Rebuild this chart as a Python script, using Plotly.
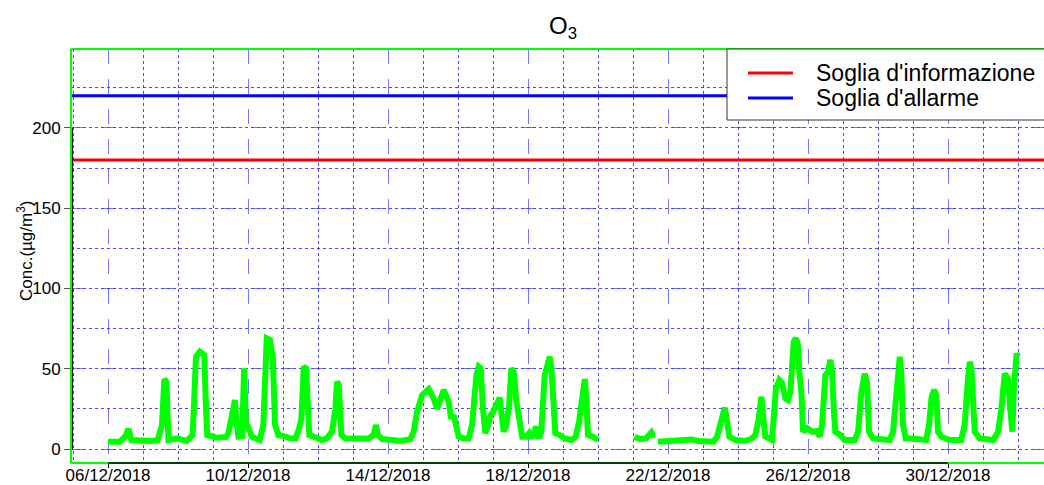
import pandas as pd
import plotly.graph_objects as go

# ---- data (hours after 06/12/2018 00:00, O3 concentration in µg/m³) ----
start_date = "2018-12-06"
hours = [0, 8, 12, 14, 16, 24, 30, 34, 37, 38.6, 40, 41.4, 47, 54, 58, 59.5, 60.3, 63, 66, 67, 68, 75, 81,
         82.5, 85, 87, 88, 89.4, 92, 93.3, 94.6, 96, 98.5, 102, 104, 106.5, 108.8, 111, 113, 114.5, 116.8, 122,
         125, 128.5, 130.7, 132.6, 134.2, 135.8, 137, 138, 141, 143.3, 146.7, 150, 153.6, 155.9, 157, 158.2, 160,
         162.7, 172, 178.7, 182, 183.8, 185, 188, 194.7, 200.5, 207.3, 209.6, 211.9, 215.3, 219.9, 223.3, 225.6,
         230.2, 233.6, 235.2, 237, 238.6, 240.5, 244, 247.3, 249.6, 250.5, 252.6, 254.2, 255.5, 257.1, 258.7,
         260.6, 262.2, 264, 266.3, 268.6, 269.7, 271.3, 273.1, 275, 276.6, 278.2, 280, 282.3, 284, 286.9, 288.7,
         290.3, 292.6, 293.7, 295.3, 297.1, 299.4, 301, 302.9, 304, 305.6, 306.7, 309.7, 313.1, 317.7, 320.7, 323,
         325.3, 326.9, 328, 329.1, 332.6, 336,
         348,
         361, 364.6, 369, 372.6, 373.7, 375,
         376,
         377, 384.5, 393.6, 400, 405, 411.9, 415.3, 417.6, 419.9, 422.9, 424.5, 426, 430.2, 437, 441.6, 443.9,
         446.2, 448, 448.9, 450.7, 455.3, 456.5, 458, 460.3, 462.2, 464.5, 466.3, 467.9, 469, 470.2, 471.8, 473.1,
         474, 475.4, 476.6, 479.3, 482.7, 486.2, 488, 489.6, 491.9, 493.7, 495.3, 496.5, 497.6, 498.7, 502.2, 505,
         512, 514.3, 516.6, 518.9, 520.5, 521.8, 524.6, 536, 538.3, 541, 542.9, 544, 545.1, 547, 551, 561, 563,
         564.6, 566.2, 568, 569.1, 571.4, 577, 585, 587.4, 589.7, 590.9, 592, 593.1, 594.3, 597.7, 607, 610.3,
         612.6, 614.9, 617.1, 618.7, 620.1, 621, 623, 624]
o3 = [4.6, 4.5, 8, 12.5, 5.6, 5, 5, 5.5, 15, 43.6, 42, 5.6, 6.6, 5, 8.7, 40, 57.5, 60.6, 58.6, 30, 8.7, 7, 7.5,
      9.8, 20, 30.5, 17, 7.7, 8, 50.3, 15, 14, 7.7, 6.6, 5.6, 15, 69, 68, 56.5, 15, 8.7, 7.7,
      6.6, 6.6, 11.8, 19, 51.3, 50.3, 25, 8.7, 7.7, 6.6, 5.6, 6.6, 10.8, 25, 42, 40, 8.7,
      6.6, 6.2, 6.6, 8.7, 15, 8.7, 6.2, 5.6, 5, 6.2, 10.8, 23, 33.6, 37.4, 31.6, 25,
      36.8, 29.5, 19, 21, 15, 7.7, 6.6, 6.6, 15, 25, 46, 51.3, 50.3, 25, 9.8,
      15, 21, 23, 27.4, 32, 23, 10.8, 15, 27.4, 50.3, 48, 29.5, 15, 7.7, 7.7, 9.8,
      6.6, 10.8, 14, 6.6, 10.8, 46, 50.3, 57.5, 50.3, 29.5, 9.8, 8.7, 6.6, 5.6, 7.7, 17,
      35.7, 43.6, 29.5, 8.7, 7.7, 5.6,
      None,
      7.7, 6.2, 6.6, 10.4, 8.7, 9,
      None,
      4.6, 5, 5, 6, 5, 4.6, 4.6, 7.7, 15, 25.8, 17, 7.7, 5.6, 5, 6.6, 8.7,
      19, 32.6, 23, 7.7, 5.6, 25, 37.8, 43, 41, 31.6, 30.5, 35.7, 52.3, 66.9, 69, 64.8,
      48, 35.7, 10.8, 13, 10.8, 11.2, 7.7, 15, 46, 48, 55.5, 48, 25, 10.8, 8.7, 5.6,
      5.6, 10.8, 35.7, 47, 41, 10.8, 6.6, 5.6, 10.8, 35.7, 57.5, 46, 15, 6.6, 6.6, 5.6, 15,
      31.6, 36.8, 33.6, 10.8, 7.7, 5.6, 5.6, 15, 44, 54.4, 50.3, 25, 10.8, 6.6, 5.6, 10.8,
      25, 47, 44, 25, 10.8, 35.7, 59.6, 57.5]

threshold_names = ["Soglia d'informazione", "Soglia d'allarme"]
threshold_values = [180, 220]
threshold_colors = ["#ff0000", "#0000ff"]

x_tick_first = "2018-12-06"
x_tick_last = "2018-12-30"
y_ticks = [0, 50, 100, 150, 200]
y_title = "Conc.(µg/m<sup>3</sup>)"
chart_title = "O<sub>3</sub>"

# ---- geometry ----
W, H = 1044, 485
ML, MR, MT, MB = 71, 0, 49, 22
PW, PH = W - ML - MR, H - MT - MB


def px_x(px):  # figure pixel -> paper x
    return (px - ML) / PW


def px_y(py):  # figure pixel -> paper y
    return 1 - (py - MT) / PH


# ---- build ----
base = pd.Timestamp(start_date)
times = [base + pd.Timedelta(hours=h) for h in hours]
x_lo = base - pd.Timedelta(hours=25.4)
x_hi = base + pd.Timedelta(hours=641.8)

FONT = "Liberation Sans, Arial, sans-serif"

fig = go.Figure()
fig.add_trace(go.Scatter(x=times, y=o3, mode="lines", connectgaps=False,
                         line=dict(color="#00ff00", width=6), showlegend=False, name="O3"))
for name, val, col in zip(threshold_names, threshold_values, threshold_colors):
    fig.add_trace(go.Scatter(x=[x_lo, x_hi], y=[val, val], mode="lines",
                             line=dict(color=col, width=3), name=name, showlegend=False))

grid_major = "rgba(60,60,255,0.7)"
grid_minor = "rgba(40,40,255,0.85)"

fig.update_xaxes(
    type="date", range=[x_lo, x_hi],
    tick0=x_tick_first, dtick=4 * 86400000, tickformat="%d/%m/%Y",
    showgrid=True, gridcolor=grid_major, griddash="longdash", gridwidth=1,
    minor=dict(dtick=86400000, tick0=x_tick_first, showgrid=True,
               gridcolor=grid_minor, griddash="dot", gridwidth=1),
    ticks="outside", ticklen=4, tickcolor="black", ticklabelstandoff=-7,
    tickfont=dict(family=FONT, size=17, color="black"),
    showline=False, zeroline=False,
)
fig.update_yaxes(
    range=[-8.7, 249.2], tickvals=y_ticks,
    showgrid=True, gridcolor=grid_major, griddash="longdash", gridwidth=1,
    minor=dict(dtick=25, tick0=0, showgrid=True, gridcolor=grid_minor, griddash="dot", gridwidth=1),
    ticks="outside", ticklen=6, tickcolor="#555555",
    tickfont=dict(family=FONT, size=17, color="black"),
    showline=False, zeroline=False,
)

# y axis title placed like the reference (close to the tick labels)
fig.add_annotation(text=y_title, xref="paper", yref="paper", x=px_x(25), y=px_y(251), textangle=-90,
                   xanchor="center", yanchor="middle", showarrow=False,
                   font=dict(family=FONT, size=17, color="black"))

# frame (green) and R-style axis lines (black)
green = dict(color="#00ff00", width=2)
fig.add_shape(type="line", xref="paper", yref="paper", x0=0, x1=0, y0=0, y1=1, line=green)
fig.add_shape(type="line", xref="paper", yref="paper", x0=0, x1=1, y0=1, y1=1, line=green)
fig.add_shape(type="line", xref="paper", yref="paper", x0=0, x1=1, y0=0, y1=0, line=green)
fig.add_shape(type="line", xref="paper", yref="y", x0=0.0015, x1=0.0015, y0=y_ticks[0], y1=y_ticks[-1],
              line=dict(color="black", width=1))
fig.add_shape(type="line", xref="x", yref="paper", x0=x_tick_first, x1=x_tick_last, y0=0, y1=0,
              line=dict(color="black", width=1.5))

# legend box (drawn like the R legend, partly cut at the right edge)
fig.add_shape(type="rect", xref="paper", yref="paper", x0=px_x(727), x1=px_x(1060), y0=px_y(120), y1=px_y(49),
              fillcolor="white", line=dict(color="#333333", width=1), layer="above")
for i, (name, col) in enumerate(zip(threshold_names, threshold_colors)):
    yy = px_y(73 + 25 * i)
    fig.add_shape(type="line", xref="paper", yref="paper", x0=px_x(748), x1=px_x(793), y0=yy, y1=yy,
                  line=dict(color=col, width=3), layer="above")
    fig.add_annotation(text=name, xref="paper", yref="paper", x=px_x(814), y=yy, xanchor="left",
                       yanchor="middle", showarrow=False, font=dict(family=FONT, size=23, color="black"))

fig.update_layout(
    width=W, height=H,
    margin=dict(l=ML, r=MR, t=MT, b=MB, autoexpand=False),
    plot_bgcolor="white", paper_bgcolor="white",
    font=dict(family=FONT, color="black"),
    showlegend=False,
    title=dict(text=chart_title, x=563 / W, xanchor="center", y=1 - 26 / H, yanchor="middle",
               font=dict(family=FONT, size=24, color="black")),
)

fig.write_html("out.html", config={"displayModeBar": False},
               post_script="document.body.style.margin='0px';")
